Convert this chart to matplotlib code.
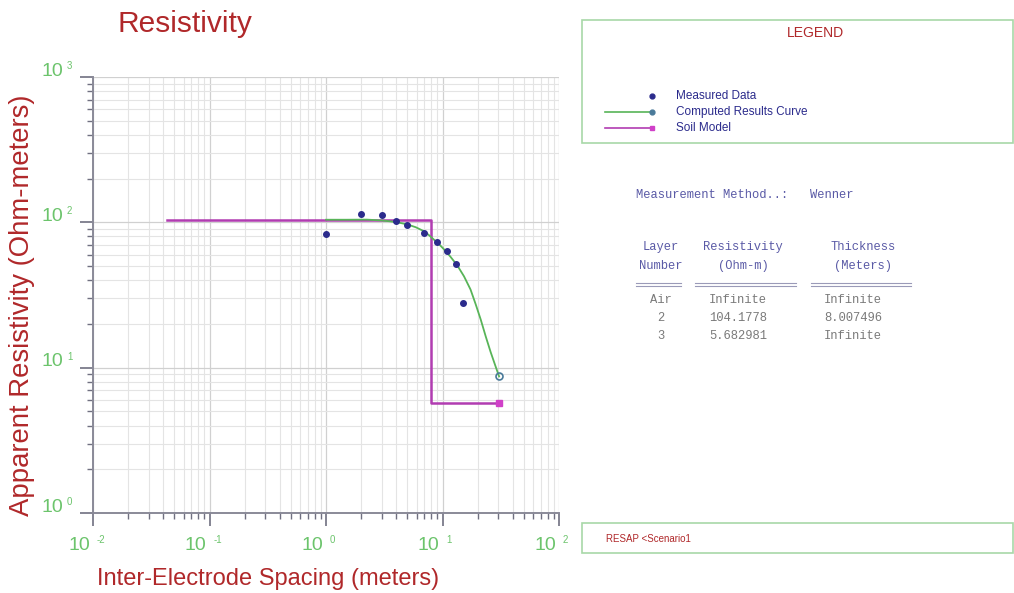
import matplotlib
matplotlib.use("Agg")
from matplotlib import pyplot as plt
from matplotlib.patches import Rectangle
from matplotlib.lines import Line2D
from matplotlib.ticker import LogLocator, NullFormatter, FixedLocator

plt.rcParams["font.family"] = ["Liberation Sans", "DejaVu Sans"]

# measured Wenner sounding
spacing = [1.0, 2.0, 3.0, 4.0, 5.0, 7.0, 9.0, 11.0, 13.0, 15.0]
measured = [82.6, 113.5, 111.7, 102.0, 95.8, 85.0, 73.0, 63.0, 51.3, 28.0]

# computed apparent resistivity curve
curve_x = [1.0, 1.5, 2.24, 3.0, 3.56, 4.2, 4.96, 5.9, 6.9, 7.6, 8.4, 9.3, 10.3,
           11.7, 13.4, 15.3, 17.4, 19.3, 21.3, 23.5, 25.9, 28.2, 30.6]
curve_y = [104.2, 104.2, 104.4, 103.0, 101.6, 99.6, 96.9, 92.5, 87.0, 82.0, 76.3,
           71.0, 65.2, 58.0, 50.5, 42.5, 34.5, 27.2, 21.4, 16.4, 12.8, 10.5, 8.7]

# layered soil model
layer_rho = [104.1778, 5.682981]
layer_top = 8.007496
model_start = 0.0428
model_end = 30.6

table_layers = ["Air", "2", "3"]
table_rho = ["Infinite", "104.1778", "5.682981"]
table_thick = ["Infinite", "8.007496", "Infinite"]

red = "#b0282a"
green = "#6cc46c"
navy = "#2b2b8c"
magenta = "#b13cb1"
curve_green = "#58b458"
box_green = "#a8d8a8"
slate = "#5a5aa6"
grey = "#7a7a7a"

W, H = 1014, 593
fig = plt.figure(figsize=(W / 100, H / 100), dpi=100)

def fx(px):
    return px / W

def fy(py):
    return 1 - py / H

ax = fig.add_axes([fx(93), fy(513), fx(559) - fx(93), fy(77) - fy(513)])
ax.set_xscale("log")
ax.set_yscale("log")
ax.set_xlim(1e-2, 1e2)
ax.set_ylim(1e0, 1e3)

exps_x = [-2, -1, 0, 1, 2]
exps_y = [0, 1, 2, 3]
ax.xaxis.set_major_locator(FixedLocator([10.0 ** e for e in exps_x]))
ax.yaxis.set_major_locator(FixedLocator([10.0 ** e for e in exps_y]))
ax.xaxis.set_minor_locator(LogLocator(base=10, subs=range(2, 10), numticks=20))
ax.yaxis.set_minor_locator(LogLocator(base=10, subs=range(2, 10), numticks=20))
ax.xaxis.set_minor_formatter(NullFormatter())
ax.yaxis.set_minor_formatter(NullFormatter())
ax.set_xticklabels([])
ax.set_yticklabels([])

ax.grid(True, which="major", color="#d0d0d0", lw=0.9)
ax.grid(True, which="minor", color="#e4e4e4", lw=0.8)
ax.set_axisbelow(True)

for side in ["top", "right"]:
    ax.spines[side].set_visible(False)
for side in ["left", "bottom"]:
    ax.spines[side].set_color("#8a8a98")
    ax.spines[side].set_linewidth(1.4)
ax.tick_params(which="major", length=9.5, width=1.2, color="#707080", direction="out")
ax.tick_params(which="minor", length=4.5, width=1.0, color="#707080", direction="out")

# tick labels drawn as "10" with a small raised exponent
for e in exps_x:
    ax.annotate("10", xy=(10.0 ** e, 0), xycoords=("data", "axes fraction"),
                xytext=(-3, -32), textcoords="offset pixels",
                ha="right", va="center", color=green, fontsize=14)
    ax.annotate(str(e), xy=(10.0 ** e, 0), xycoords=("data", "axes fraction"),
                xytext=(4, -27), textcoords="offset pixels",
                ha="left", va="center", color=green, fontsize=7)
for e in exps_y:
    ax.annotate("10", xy=(0, 10.0 ** e), xycoords=("axes fraction", "data"),
                xytext=(-30, 6), textcoords="offset pixels",
                ha="right", va="center", color=green, fontsize=14)
    ax.annotate(str(e), xy=(0, 10.0 ** e), xycoords=("axes fraction", "data"),
                xytext=(-26, 11), textcoords="offset pixels",
                ha="left", va="center", color=green, fontsize=7)

# soil model steps
ax.plot([model_start, layer_top, layer_top, model_end],
        [layer_rho[0], layer_rho[0], layer_rho[1], layer_rho[1]],
        color=magenta, lw=1.8, zorder=3)
ax.plot([model_end], [layer_rho[1]], marker="s", ms=5, color="#d040c8", zorder=5)

# computed curve
ax.plot(curve_x, curve_y, color=curve_green, lw=1.3, zorder=4)
ax.plot([curve_x[-1]], [curve_y[-1]], marker="o", ms=5, mfc="none",
        mec="#4a7a9a", mew=1.2, zorder=5)

# measured data
ax.plot(spacing, measured, "o", color=navy, ms=4, zorder=6)

fig.text(fx(118), fy(24), "Resistivity", color=red, fontsize=21.5,
         ha="left", va="center")
fig.text(fx(22), fy(305), "Apparent Resistivity (Ohm-meters)", color=red,
         fontsize=19.8, rotation=90, ha="center", va="center")
fig.text(fx(268), fy(579), "Inter-Electrode Spacing (meters)", color=red,
         fontsize=17, ha="center", va="center")

# legend panel
fig.patches.append(Rectangle((fx(582), fy(143)), fx(1013) - fx(582), fy(20) - fy(143),
                             transform=fig.transFigure, fill=False,
                             edgecolor=box_green, lw=1.2))
fig.text(fx(815), fy(33), "LEGEND", color=red, fontsize=10, ha="center", va="center")
leg_y = [96, 112, 128]
leg_text = ["Measured Data", "Computed Results Curve", "Soil Model"]
fig.lines.append(Line2D([fx(652)], [fy(leg_y[0])], marker="o", ms=3.5, color=navy,
                        lw=0, transform=fig.transFigure))
fig.lines.append(Line2D([fx(605), fx(652)], [fy(leg_y[1])] * 2, color=curve_green,
                        lw=1.2, transform=fig.transFigure))
fig.lines.append(Line2D([fx(652)], [fy(leg_y[1])], marker="o", ms=3.5,
                        color="#4a7a9a", lw=0, transform=fig.transFigure))
fig.lines.append(Line2D([fx(605), fx(652)], [fy(leg_y[2])] * 2, color=magenta,
                        lw=1.2, transform=fig.transFigure))
fig.lines.append(Line2D([fx(652)], [fy(leg_y[2])], marker="s", ms=3.5,
                        color="#d040c8", lw=0, transform=fig.transFigure))
for yy, t in zip(leg_y, leg_text):
    fig.text(fx(676), fy(yy), t, color=navy, fontsize=8.5, ha="left", va="center")

# results table
mono = "Liberation Mono"
fig.text(fx(636), fy(195), "Measurement Method..:   Wenner", color=slate,
         fontsize=8.7, family=mono, ha="left", va="center")
col_x = [661, 743, 863]
heads = [("Layer", "Number"), ("Resistivity", "(Ohm-m)"), ("Thickness", "(Meters)")]
for cx, (h1, h2) in zip(col_x, heads):
    fig.text(fx(cx), fy(247), h1, color=slate, fontsize=8.7, family=mono,
             ha="center", va="center")
    fig.text(fx(cx), fy(266), h2, color=slate, fontsize=8.7, family=mono,
             ha="center", va="center")
for x0, x1 in [(636, 681), (695, 796), (811, 911)]:
    for yy in (282.5, 285.5):
        fig.lines.append(Line2D([fx(x0), fx(x1)], [fy(yy)] * 2, color="#9a9ab8",
                                lw=0.8, transform=fig.transFigure))
row_x = [661, 738, 853]
for i, row_y in enumerate([300, 318, 336]):
    for cx, col in zip(row_x, [table_layers, table_rho, table_thick]):
        fig.text(fx(cx), fy(row_y), col[i], color=grey, fontsize=8.7, family=mono,
                 ha="center", va="center")

# footer panel
fig.patches.append(Rectangle((fx(582), fy(553)), fx(1013) - fx(582), fy(523) - fy(553),
                             transform=fig.transFigure, fill=False,
                             edgecolor=box_green, lw=1.2))
fig.text(fx(606), fy(539), "RESAP <Scenario1", color=red, fontsize=7,
         ha="left", va="center")

fig.savefig("out.png", dpi=100)
